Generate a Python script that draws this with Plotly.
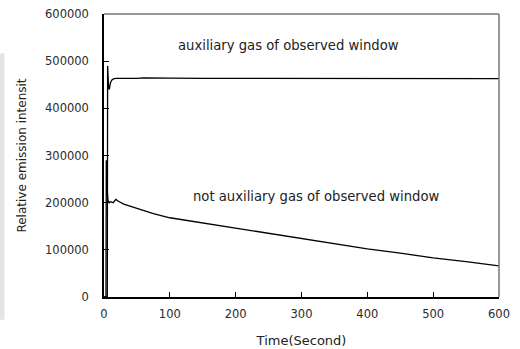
import plotly.graph_objects as go

# Upper series: auxiliary gas of observed window
t_aux = [0, 5, 5.5, 6, 7, 8, 9, 10, 12, 15, 20, 30, 40, 50, 60, 80, 100, 150, 200, 250, 300,
         350, 380, 400, 420, 450, 500, 550, 600]
v_aux = [0, 0, 490000, 470000, 445000, 440000, 448000, 455000, 460000, 463000, 463500, 463000,
         464000, 463500, 464500, 463500, 464000, 463500, 463500, 463500, 463000,
         463000, 463500, 463500, 462500, 463000, 463000, 463000, 463000]

# Lower series: not auxiliary gas of observed window
t_not = [0, 3, 3.5, 4, 5, 6, 8, 10, 14, 18, 22, 30, 50, 75, 100, 150, 200, 250, 300,
         350, 400, 450, 500, 550, 600]
v_not = [0, 0, 290000, 240000, 225000, 205000, 200000, 202000, 200000, 207000, 203000,
         197000, 188000, 177000, 168000, 157000, 146000, 136000, 125000,
         114000, 102000, 93000, 83000, 75000, 66000]

x_ticks = [0, 100, 200, 300, 400, 500, 600]
y_ticks = [0, 100000, 200000, 300000, 400000, 500000, 600000]
y_labels = ["0", "100000", "200000", "300000", "400000", "500000", "600000"]

fig = go.Figure()
fig.add_trace(go.Scatter(x=t_aux, y=v_aux, mode="lines",
                         line=dict(color="black", width=1.3), showlegend=False))
fig.add_trace(go.Scatter(x=t_not, y=v_not, mode="lines",
                         line=dict(color="black", width=1.3), showlegend=False))

fam = "DejaVu Sans, sans-serif"
tick_font = dict(family=fam, size=11.5, color="#2a2a2a")
ann_font = dict(family=fam, size=13.2, color="#222")
xt_font = dict(family=fam, size=13, color="#222")
yt_font = dict(family=fam, size=12, color="#222")

fig.update_layout(
    width=520, height=349,
    margin=dict(l=104, r=21, t=14, b=52),
    paper_bgcolor="white", plot_bgcolor="white",
    font=tick_font,
    xaxis=dict(range=[0, 600], tickvals=x_ticks, ticks="inside", ticklen=5,
               tickcolor="black", showline=True, linecolor="black", linewidth=1.5,
               showgrid=False, zeroline=False, ticklabelstandoff=5, tickfont=tick_font,
               automargin=False,
               title=dict(text="Time(Second)", standoff=16, font=xt_font)),
    yaxis=dict(range=[0, 600000], tickvals=y_ticks, ticktext=y_labels,
               ticks="inside", ticklen=5, tickfont=tick_font,
               tickcolor="black", showline=True, linecolor="black", linewidth=1.5,
               showgrid=False, zeroline=False, ticklabelstandoff=11, automargin=False,
               title=dict(text="Relative emission intensit", standoff=16, font=yt_font)),
    shapes=[
        dict(type="line", xref="paper", yref="paper", x0=0, x1=1, y0=1, y1=1,
             line=dict(color="#777", width=1.5)),
        dict(type="line", xref="paper", yref="paper", x0=1, x1=1, y0=0, y1=1,
             line=dict(color="#777", width=1.5)),
        dict(type="rect", xref="paper", yref="paper", x0=-0.265, x1=-0.252,
             y0=-0.08, y1=0.86, fillcolor="#e4e4e4", line=dict(width=0), layer="below"),
    ],
    annotations=[
        dict(text="auxiliary gas of observed window", x=280, y=534000,
             xref="x", yref="y", showarrow=False, font=ann_font),
        dict(text="not auxiliary gas of observed window", x=323, y=214000,
             xref="x", yref="y", showarrow=False, font=ann_font),
    ],
)

fig.write_html("out.html")
